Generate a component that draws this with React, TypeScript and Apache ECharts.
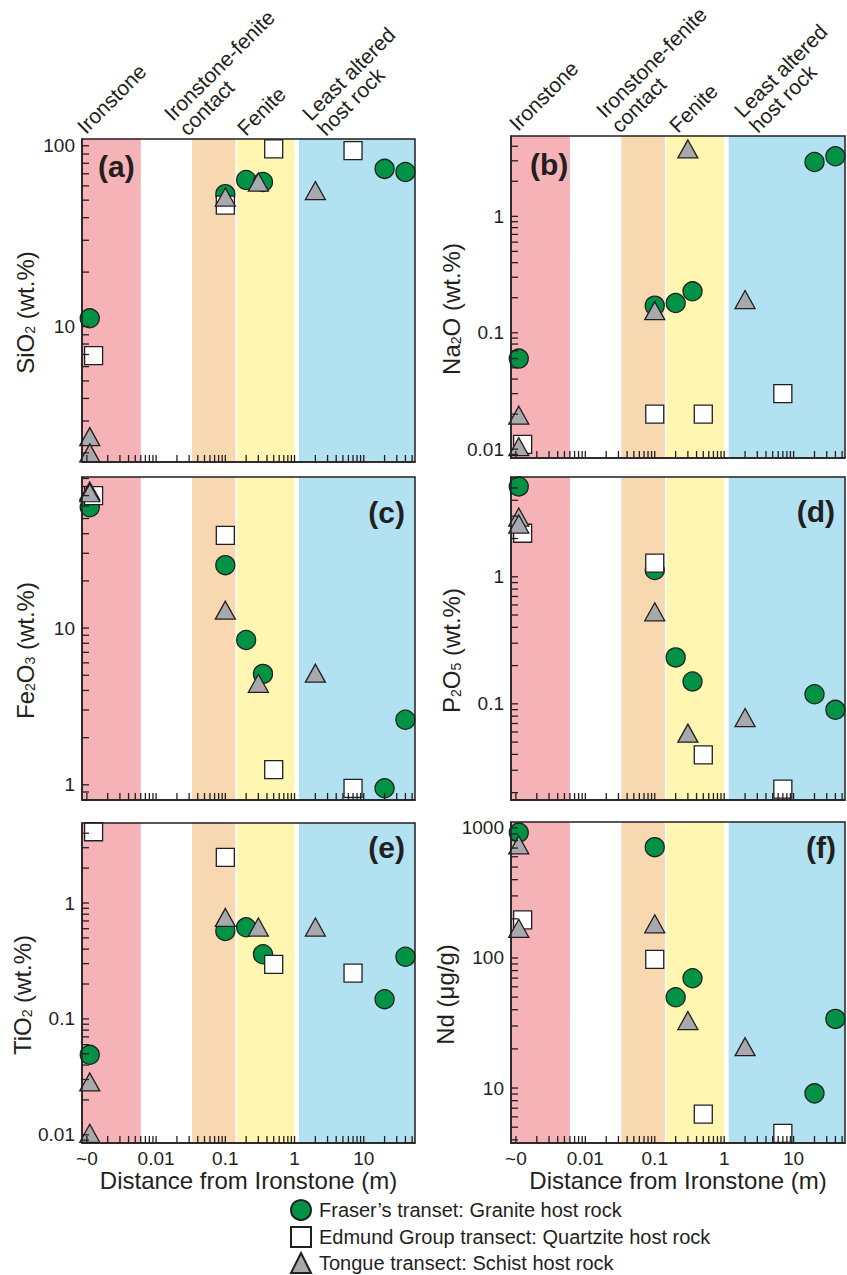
import React, { useEffect, useRef } from 'react';
import * as echarts from 'echarts';

// ---------- data ----------
const seriesNames = [
  'Fraser\u2019s transet: Granite host rock',
  'Edmund Group transect: Quartzite host rock',
  'Tongue transect: Schist host rock',
];

// distance from ironstone (m); "~0" samples are plotted at the ~0 tick
const distFraser = [0.0011, 0.1, 0.2, 0.35, 20, 40];
const distEdmund = [0.00125, 0.1, 0.5, 7];
const distTongue = [0.0011, 0.0011, 0.1, 0.3, 2];

const sio2Fraser = [11.1, 54, 64.7, 63, 74.5, 71.6];
const sio2Edmund = [6.9, 47, 96, 94];
const sio2Tongue = [2.46, 2.0, 52, 63, 56.5];

const na2oFraser = [0.06, 0.171, 0.18, 0.227, 2.93, 3.28];
const na2oEdmund = [0.011, 0.02, 0.02, 0.03];
const na2oTongue = [0.0196, 0.0105, 0.155, 3.79, 0.193];

const fe2o3Fraser = [59, 25.2, 8.4, 5.1, 0.95, 2.6];
const fe2o3Edmund = [70, 39, 1.25, 0.95];
const fe2o3Tongue = [75, 73, 13, 4.44, 5.15];

const p2o5Fraser = [5.14, 1.13, 0.232, 0.15, 0.119, 0.0897];
const p2o5Edmund = [2.2, 1.28, 0.0397, 0.0213];
const p2o5Tongue = [2.95, 2.6, 0.53, 0.0588, 0.078];

const tio2Fraser = [0.049, 0.574, 0.617, 0.361, 0.148, 0.344];
const tio2Edmund = [4.12, 2.48, 0.296, 0.248];
const tio2Tongue = [0.0286, 0.0103, 0.75, 0.62, 0.62];

const ndFraser = [920, 711, 49.9, 69.8, 9.1, 34];
const ndEdmund = [196, 97.7, 6.3, 4.48];
const ndTongue = [740, 169, 183, 33, 20.8];

// zone boundaries along the distance axis (m)
const xMin = 0.00085;
const xMax = 55;
const zoneEdges = [
  [xMin, 0.006],
  [0.033, 0.14],
  [0.148, 1.0],
  [1.16, xMax],
];
const zoneNames = ['Ironstone', 'Ironstone-fenite\ncontact', 'Fenite', 'Least altered\nhost rock'];

const xLabelValues = [0.001, 0.01, 0.1, 1, 10];
const xLabelTexts = ['~0', '0.01', '0.1', '1', '10'];

const panelLetters = ['(a)', '(b)', '(c)', '(d)', '(e)', '(f)'];
const yNames = [
  'SiO{sub|2} (wt.%)',
  'Na{sub|2}O (wt.%)',
  'Fe{sub|2}O{sub|3} (wt.%)',
  'P{sub|2}O{sub|5} (wt.%)',
  'TiO{sub|2} (wt.%)',
  'Nd (\u03bcg/g)',
];
const yMins = [1.78, 0.0084, 0.8, 0.0175, 0.0085, 3.78];
const yMaxs = [109, 4.9, 92, 6.1, 4.9, 1110];
const yLabelValues = [
  [10, 100],
  [0.01, 0.1, 1],
  [1, 10],
  [0.1, 1],
  [0.01, 0.1, 1],
  [10, 100, 1000],
];
const fraserValues = [sio2Fraser, na2oFraser, fe2o3Fraser, p2o5Fraser, tio2Fraser, ndFraser];
const edmundValues = [sio2Edmund, na2oEdmund, fe2o3Edmund, p2o5Edmund, tio2Edmund, ndEdmund];
const tongueValues = [sio2Tongue, na2oTongue, fe2o3Tongue, p2o5Tongue, tio2Tongue, ndTongue];

// ---------- styling / layout ----------
const INK = '#231f20';
const FONT = '"Liberation Sans", Arial, Helvetica, sans-serif';
const zoneColors = ['#f5b2b7', '#f8d8b1', '#fff7b1', '#b2e1f1'];
const GREEN = '#009245';
const GREY = '#a7a9ac';
const TICK = 7;
const TICK_W = 1.3;

const grids = [
  { left: 82, top: 139, width: 333, height: 323 },
  { left: 511, top: 136, width: 334, height: 322 },
  { left: 82, top: 477, width: 333, height: 323 },
  { left: 511, top: 477, width: 334, height: 323 },
  { left: 82, top: 823, width: 333, height: 320 },
  { left: 511, top: 822, width: 334, height: 321 },
];

function logTicks(min: number, max: number): number[] {
  const out: number[] = [];
  const e0 = Math.floor(Math.log10(min));
  const e1 = Math.ceil(Math.log10(max));
  for (let e = e0; e <= e1; e++) {
    for (let k = 1; k <= 9; k++) {
      const v = Number((k * Math.pow(10, e)).toPrecision(6));
      if (v >= min && v <= max) out.push(v);
    }
  }
  return out;
}

function fmtNum(v: number): string {
  return String(Number(v.toPrecision(6)));
}

export default function App() {
  const ref = useRef<HTMLDivElement>(null);

  useEffect(() => {
    if (!ref.current) return;
    const chart = echarts.init(ref.current, undefined, { renderer: 'svg' });

    const xTicks = logTicks(0.001, xMax);

    const xAxes: any[] = [];
    const yAxes: any[] = [];
    const series: any[] = [];

    grids.forEach((g, i) => {
      const bottom = i >= 4;
      xAxes.push({
        type: 'log',
        gridIndex: i,
        min: xMin,
        max: xMax,
        axisLine: { show: true, lineStyle: { color: INK, width: 1.5 } },
        axisTick: { show: false },
        axisLabel: {
          show: bottom,
          customValues: xLabelValues,
          fontSize: 19,
          color: INK,
          margin: 6,
          formatter: (v: number) => {
            const idx = xLabelValues.findIndex((x) => Math.abs(Math.log10(x) - Math.log10(v)) < 1e-6);
            return idx >= 0 ? xLabelTexts[idx] : '';
          },
        },
        splitLine: { show: false },
        minorTick: { show: false },
        name: bottom ? 'Distance from Ironstone (m)' : '',
        nameLocation: 'middle',
        nameGap: 23,
        nameTextStyle: { fontSize: 24, color: INK, verticalAlign: 'top' },
      });
      yAxes.push({
        type: 'log',
        gridIndex: i,
        min: yMins[i],
        max: yMaxs[i],
        axisLine: { show: true, lineStyle: { color: INK, width: 1.5 } },
        axisTick: { show: false },
        axisLabel: {
          customValues: yLabelValues[i],
          fontSize: 19,
          color: INK,
          margin: 7,
          formatter: (v: number) => fmtNum(v),
        },
        splitLine: { show: false },
        name: yNames[i],
        nameLocation: 'middle',
        nameRotate: 90,
        nameGap: i % 2 === 0 ? 45 : 48,
        nameTextStyle: {
          fontSize: 24,
          color: INK,
          padding: [0, 24, 0, 0],
          rich: { sub: { fontSize: 14, color: INK, verticalAlign: 'bottom' } },
        },
      });

      // coloured zone bands over the full panel height
      series.push({
        type: 'custom',
        name: 'zones' + i,
        xAxisIndex: i,
        yAxisIndex: i,
        z: 0,
        silent: true,
        data: zoneEdges.map((e, k) => [e[0], yMins[i], e[1], k]),
        renderItem: (params: any, api: any) => {
          const p0 = api.coord([api.value(0), yMins[i]]);
          const p1 = api.coord([api.value(2), yMaxs[i]]);
          return {
            type: 'rect',
            shape: { x: p0[0], y: p1[1], width: p1[0] - p0[0], height: p0[1] - p1[1] },
            style: { fill: zoneColors[api.value(3)] },
          };
        },
      });

      series.push({
        type: 'scatter',
        name: seriesNames[0],
        xAxisIndex: i,
        yAxisIndex: i,
        data: distFraser.map((d, j) => [d, fraserValues[i][j]]),
        symbol: 'circle',
        symbolSize: 19,
        itemStyle: { color: GREEN, borderColor: INK, borderWidth: 1.3, opacity: 1 },
        emphasis: { disabled: true },
        z: 3,
      });
      series.push({
        type: 'scatter',
        name: seriesNames[1],
        xAxisIndex: i,
        yAxisIndex: i,
        data: distEdmund.map((d, j) => [d, edmundValues[i][j]]),
        symbol: 'rect',
        symbolSize: 18,
        itemStyle: { color: '#ffffff', borderColor: INK, borderWidth: 1.3, opacity: 1 },
        emphasis: { disabled: true },
        z: 4,
      });
      series.push({
        type: 'scatter',
        name: seriesNames[2],
        xAxisIndex: i,
        yAxisIndex: i,
        data: distTongue.map((d, j) => [d, tongueValues[i][j]]),
        symbol: 'triangle',
        symbolSize: [20, 18],
        itemStyle: { color: GREY, borderColor: INK, borderWidth: 1.3, opacity: 1 },
        emphasis: { disabled: true },
        z: 5,
      });

      // inward ticks on the distance axis (drawn last, on top)
      series.push({
        type: 'scatter',
        name: 'xticks' + i,
        xAxisIndex: i,
        yAxisIndex: i,
        z: 8,
        silent: true,
        clip: false,
        data: xTicks.map((v) => [v, yMins[i]]),
        symbol: 'rect',
        symbolSize: [TICK_W, TICK],
        symbolOffset: [0, -TICK / 2],
        itemStyle: { color: INK, opacity: 1 },
        emphasis: { disabled: true },
      });
      // inward ticks on the concentration axis
      series.push({
        type: 'scatter',
        name: 'yticks' + i,
        xAxisIndex: i,
        yAxisIndex: i,
        z: 8,
        silent: true,
        clip: false,
        data: logTicks(yMins[i], yMaxs[i]).map((v) => [xMin, v]),
        symbol: 'rect',
        symbolSize: [TICK, TICK_W],
        symbolOffset: [TICK / 2, 0],
        itemStyle: { color: INK, opacity: 1 },
        emphasis: { disabled: true },
      });
    });

    const graphics: any[] = [];
    // zone labels above top panels
    const zoneAnchorsLeft = [
      [88, 137],
      [190, 139],
      [248, 139],
      [328, 139],
    ];
    [0, 432].forEach((dx, side) => {
      zoneNames.forEach((t, k) => {
        graphics.push({
          type: 'text',
          x: zoneAnchorsLeft[k][0] + dx,
          y: zoneAnchorsLeft[k][1] - (side === 1 ? 3 : 0),
          rotation: Math.PI / 4,
          style: {
            text: t,
            fontSize: 21,
            lineHeight: 21,
            fontFamily: FONT,
            fill: INK,
            align: 'left',
            verticalAlign: 'bottom',
          },
          z: 10,
        });
      });
    });
    // panel letters
    const letterPos = [
      [98, 166, 'left'],
      [530, 164, 'left'],
      [405, 512, 'right'],
      [835, 511, 'right'],
      [405, 847, 'right'],
      [836, 847, 'right'],
    ];
    panelLetters.forEach((t, i) => {
      graphics.push({
        type: 'text',
        x: letterPos[i][0],
        y: letterPos[i][1],
        style: {
          text: t,
          fontSize: 30,
          fontWeight: 'bold',
          fontFamily: FONT,
          fill: INK,
          align: letterPos[i][2],
          verticalAlign: 'middle',
        },
        z: 10,
      });
    });

    const legendRowCenters = [1210, 1237, 1263];

    chart.setOption({
      animation: false,
      textStyle: { fontFamily: FONT, color: INK },
      grid: grids.map((g) => ({
        ...g,
        show: true,
        borderColor: INK,
        borderWidth: 1.5,
        backgroundColor: 'transparent',
        z: 9,
        containLabel: false,
      })),
      xAxis: xAxes,
      yAxis: yAxes,
      series,
      legend: seriesNames.map((n, k) => ({
        orient: 'horizontal',
        left: 290,
        top: legendRowCenters[k] - 11,
        padding: 0,
        itemWidth: 20,
        itemHeight: 20,
        data: [n],
        textStyle: { fontSize: 20, color: INK, fontFamily: FONT, padding: [0, 0, 0, 3] },
        selectedMode: false,
      })),
      graphic: graphics,
    });

    return () => {
      chart.dispose();
    };
  }, []);

  return (
    <div
      ref={ref}
      style={{ position: 'absolute', left: 0, top: 0, width: 847, height: 1275, background: '#ffffff' }}
    />
  );
}
